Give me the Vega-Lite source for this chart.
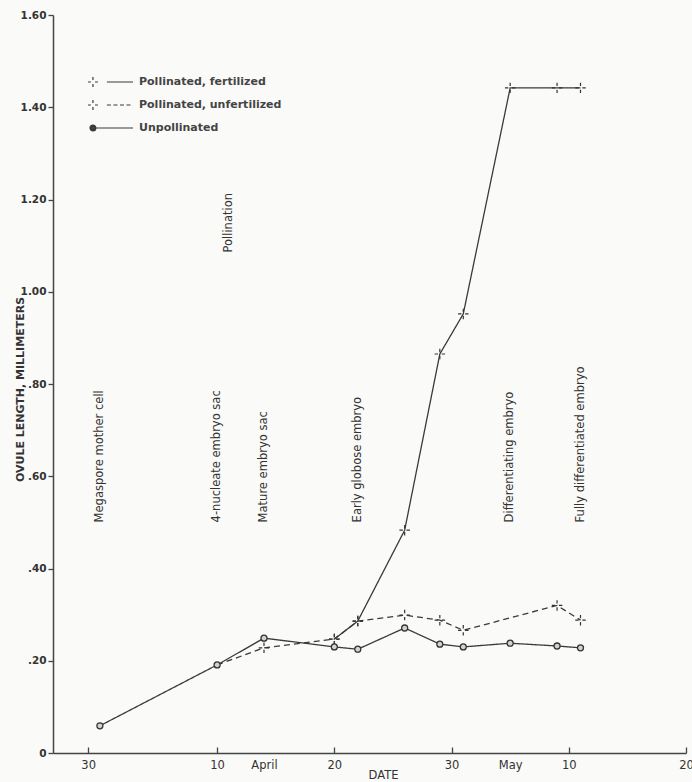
{
  "$schema": "https://vega.github.io/schema/vega-lite/v6.json",
  "width": 633,
  "height": 738,
  "autosize": {"type": "none"},
  "padding": {"left": 53, "top": 15, "right": 6, "bottom": 29},
  "background": "#fafaf8",
  "config": {"view": {"stroke": null}, "font": "DejaVu Sans"},
  "datasets": {
    "obs": [
      {"series": "Unpollinated", "date": "1950-03-31", "value": 0.059},
      {"series": "Unpollinated", "date": "1950-04-10", "value": 0.191},
      {"series": "Unpollinated", "date": "1950-04-14", "value": 0.249},
      {"series": "Unpollinated", "date": "1950-04-20", "value": 0.230},
      {"series": "Unpollinated", "date": "1950-04-22", "value": 0.225},
      {"series": "Unpollinated", "date": "1950-04-26", "value": 0.271},
      {"series": "Unpollinated", "date": "1950-04-29", "value": 0.236},
      {"series": "Unpollinated", "date": "1950-05-01", "value": 0.230},
      {"series": "Unpollinated", "date": "1950-05-05", "value": 0.238},
      {"series": "Unpollinated", "date": "1950-05-09", "value": 0.232},
      {"series": "Unpollinated", "date": "1950-05-11", "value": 0.228},
      {"series": "Pollinated, unfertilized", "date": "1950-04-10", "value": 0.191},
      {"series": "Pollinated, unfertilized", "date": "1950-04-14", "value": 0.228},
      {"series": "Pollinated, unfertilized", "date": "1950-04-20", "value": 0.247},
      {"series": "Pollinated, unfertilized", "date": "1950-04-22", "value": 0.286},
      {"series": "Pollinated, unfertilized", "date": "1950-04-26", "value": 0.299},
      {"series": "Pollinated, unfertilized", "date": "1950-04-29", "value": 0.288},
      {"series": "Pollinated, unfertilized", "date": "1950-05-01", "value": 0.266},
      {"series": "Pollinated, unfertilized", "date": "1950-05-09", "value": 0.320},
      {"series": "Pollinated, unfertilized", "date": "1950-05-11", "value": 0.288},
      {"series": "Pollinated, fertilized", "date": "1950-04-20", "value": 0.247},
      {"series": "Pollinated, fertilized", "date": "1950-04-22", "value": 0.286},
      {"series": "Pollinated, fertilized", "date": "1950-04-26", "value": 0.483},
      {"series": "Pollinated, fertilized", "date": "1950-04-29", "value": 0.865},
      {"series": "Pollinated, fertilized", "date": "1950-05-01", "value": 0.952},
      {"series": "Pollinated, fertilized", "date": "1950-05-05", "value": 1.442},
      {"series": "Pollinated, fertilized", "date": "1950-05-09", "value": 1.442},
      {"series": "Pollinated, fertilized", "date": "1950-05-11", "value": 1.442}
    ],
    "notes": [
      {"label": "Megaspore mother cell", "date": "1950-03-31", "value": 0.5},
      {"label": "4-nucleate embryo sac", "date": "1950-04-10", "value": 0.5},
      {"label": "Pollination", "date": "1950-04-11", "value": 1.085},
      {"label": "Mature embryo sac", "date": "1950-04-14", "value": 0.5},
      {"label": "Early globose embryo", "date": "1950-04-22", "value": 0.5},
      {"label": "Differentiating embryo", "date": "1950-05-05", "value": 0.5},
      {"label": "Fully differentiated embryo", "date": "1950-05-11", "value": 0.5}
    ]
  },
  "encoding": {
    "x": {
      "field": "date",
      "type": "temporal",
      "scale": {
        "type": "utc",
        "domain": [
          {"year": 1950, "month": 3, "date": 27, "utc": true},
          {"year": 1950, "month": 5, "date": 20, "utc": true}
        ]
      },
      "axis": {
        "title": "DATE",
        "values": [
          {"year": 1950, "month": 3, "date": 30, "utc": true},
          {"year": 1950, "month": 4, "date": 10, "utc": true},
          {"year": 1950, "month": 4, "date": 14, "utc": true},
          {"year": 1950, "month": 4, "date": 20, "utc": true},
          {"year": 1950, "month": 4, "date": 30, "utc": true},
          {"year": 1950, "month": 5, "date": 5, "utc": true},
          {"year": 1950, "month": 5, "date": 10, "utc": true},
          {"year": 1950, "month": 5, "date": 20, "utc": true}
        ],
        "labelExpr": "(utcmonth(datum.value)==3 && utcdate(datum.value)==14) ? 'April' : (utcmonth(datum.value)==4 && utcdate(datum.value)==5) ? 'May' : utcFormat(datum.value, '%d')",
        "tickOpacity": {
          "condition": {"test": "(utcmonth(datum.value)==3 && utcdate(datum.value)==14) || (utcmonth(datum.value)==4 && utcdate(datum.value)==5)", "value": 0},
          "value": 1
        },
        "grid": false,
        "tickSize": -6,
        "tickWidth": 1.3,
        "tickColor": "#444",
        "domainColor": "#444",
        "domainWidth": 1.5,
        "labelFont": "DejaVu Sans",
        "labelFontSize": 11.5,
        "labelColor": "#333",
        "labelPadding": 12,
        "labelFlush": false,
        "labelBound": false,
        "labelOverlap": false,
        "titleFont": "DejaVu Sans",
        "titleFontSize": 11.5,
        "titleFontWeight": "normal",
        "titleColor": "#333",
        "titleX": 330,
        "titleY": 22,
        "titleBaseline": "middle"
      }
    },
    "y": {
      "field": "value",
      "type": "quantitative",
      "scale": {"domain": [0, 1.6], "nice": false, "zero": true},
      "axis": {
        "title": "OVULE LENGTH, MILLIMETERS",
        "values": [0, 0.2, 0.4, 0.6, 0.8, 1.0, 1.2, 1.4, 1.6],
        "labelExpr": "datum.value == 0 ? '0' : datum.value < 0.99 ? replace(format(datum.value, '.2f'), '0.', '.') : format(datum.value, '.2f')",
        "grid": false,
        "tickSize": 5,
        "tickWidth": 1.3,
        "tickColor": "#444",
        "domainColor": "#444",
        "domainWidth": 1.5,
        "labelFont": "DejaVu Sans",
        "labelFontSize": 10.5,
        "labelFontWeight": "bold",
        "labelColor": "#333",
        "labelPadding": 2,
        "labelFlush": false,
        "titleFont": "DejaVu Sans",
        "titleFontSize": 11,
        "titleFontWeight": "bold",
        "titleColor": "#333",
        "titleAngle": 270,
        "titleX": -33,
        "titleY": 374,
        "titleBaseline": "middle",
        "titleAlign": "center"
      }
    }
  },
  "layer": [
    {
      "data": {"name": "obs"},
      "mark": {"type": "line", "color": "#3a3a3a", "strokeWidth": 1.3},
      "encoding": {
        "detail": {"field": "series", "type": "nominal"},
        "strokeDash": {
          "field": "series",
          "type": "nominal",
          "scale": {
            "domain": ["Pollinated, fertilized", "Pollinated, unfertilized", "Unpollinated"],
            "range": [[1, 0], [6, 4], [1, 0]]
          },
          "legend": null
        }
      }
    },
    {
      "data": {"name": "obs"},
      "transform": [
        {"filter": "datum.series != 'Unpollinated' && !(utcmonth(datum.date) == 3 && utcdate(datum.date) == 10)"}
      ],
      "mark": {"type": "point", "shape": "M-1,0H-0.35M0.35,0H1M0,-1V-0.35M0,0.35V1", "filled": false, "stroke": "#333", "strokeWidth": 1.2, "size": 110, "opacity": 1}
    },
    {
      "data": {"name": "obs"},
      "transform": [{"filter": "datum.series == 'Unpollinated'"}],
      "mark": {"type": "point", "shape": "circle", "filled": true, "fill": "#d2d2d2", "stroke": "#333", "strokeWidth": 1.3, "size": 36, "opacity": 1}
    },
    {
      "data": {"name": "notes"},
      "mark": {"type": "text", "angle": 270, "align": "left", "baseline": "middle", "font": "DejaVu Sans", "fontSize": 11.5, "color": "#333"},
      "encoding": {
        "text": {"field": "label", "type": "nominal"}
      }
    },
    {
      "data": {"name": "obs"},
      "transform": [{"filter": "false"}],
      "mark": {"type": "point", "filled": false, "stroke": "#3a3a3a", "strokeWidth": 1.2},
      "encoding": {
        "shape": {
          "field": "series",
          "type": "nominal",
          "scale": {
            "domain": ["Pollinated, fertilized", "Pollinated, unfertilized", "Unpollinated"],
            "range": [
              "M-1,0H-0.87M-0.69,0H-0.56M-0.78,-0.22V-0.09M-0.78,0.09V0.22M-0.16,0H1",
              "M-1,0H-0.87M-0.69,0H-0.56M-0.78,-0.22V-0.09M-0.78,0.09V0.22M-0.16,0H0.02M0.13,0H0.31M0.42,0H0.6M0.71,0H0.89",
              "M-0.91,0A0.13,0.13 0 1,0 -0.65,0A0.13,0.13 0 1,0 -0.91,0M-0.865,0A0.085,0.085 0 1,0 -0.695,0A0.085,0.085 0 1,0 -0.865,0M-0.82,0A0.04,0.04 0 1,0 -0.74,0A0.04,0.04 0 1,0 -0.82,0M-0.65,0H1"
            ]
          },
          "legend": {
            "orient": "none",
            "legendX": 34,
            "legendY": 60.5,
            "title": null,
            "padding": 0,
            "clipHeight": 13,
            "symbolSize": 2025,
            "symbolStrokeWidth": 1.2,
            "symbolStrokeColor": "#3a3a3a",
            "symbolOpacity": 1,
            "symbolOffset": 0,
            "labelFont": "DejaVu Sans",
            "labelFontSize": 11,
            "labelFontWeight": "bold",
            "labelColor": "#444",
            "labelOffset": 5,
            "rowPadding": 10
          }
        }
      }
    }
  ],
  "resolve": {"scale": {"shape": "independent"}}
}
